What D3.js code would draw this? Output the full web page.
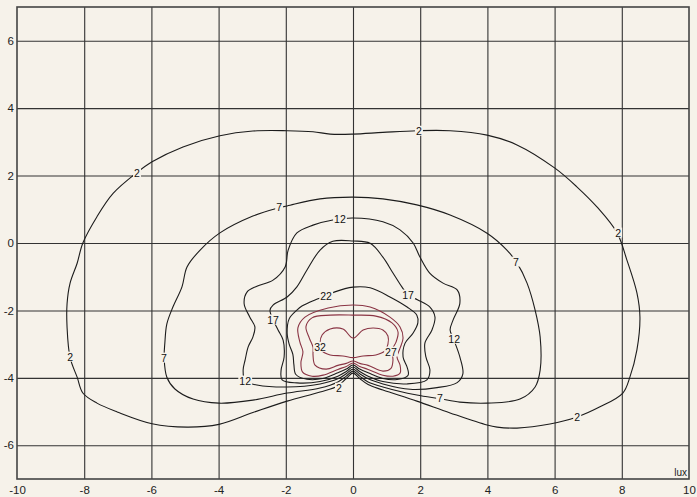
<!DOCTYPE html>
<html><head><meta charset="utf-8">
<script src="https://cdn.jsdelivr.net/npm/d3@7"></script>
<style>html,body{margin:0;padding:0;background:#f6f2ea;} svg{display:block}</style>
</head><body><svg id="c" width="697" height="497"></svg>
<script>
const xTicks = [-10,-8,-6,-4,-2,0,2,4,6,8,10];
const yTicks = [-6,-4,-2,0,2,4,6];
const xGrid = [-8,-6,-4,-2,0,2,4,6,8];
const yGrid = [-6,-4,-2,0,2,4,6];
const levels = [2,7,12,17,22,27,32,37];

const contour2 = [[0,3.23],[0.89,3.28],[1.9,3.33],[2.89,3.33],[3.99,3.20],[4.88,2.91],[6.01,2.22],[6.67,1.66],[7.26,1.07],[7.86,0.30],[8.15,-0.50],[8.45,-1.48],[8.54,-2.20],[8.45,-3.17],[8.24,-3.98],[8.03,-4.45],[7.35,-4.86],[6.67,-5.16],[5.86,-5.37],[4.88,-5.49],[4.29,-5.46],[3.99,-5.40],[2.89,-5.04],[1.9,-4.69],[0.89,-4.36],[0.45,-4.20],[0.2,-4.02],[0,-3.86],
[-0.2,-4.02],[-0.45,-4.24],[-0.98,-4.42],[-1.96,-4.69],[-2.98,-5.03],[-3.99,-5.38],[-4.94,-5.46],[-5.98,-5.36],[-7.02,-5.01],[-7.62,-4.75],[-8.04,-4.45],[-8.21,-3.98],[-8.42,-3.40],[-8.51,-2.50],[-8.51,-1.80],[-8.42,-1.19],[-8.21,-0.60],[-8.04,0],[-7.62,0.78],[-7.14,1.47],[-6.43,2.09],[-5.98,2.41],[-5.06,2.85],[-3.96,3.18],[-2.98,3.32],[-1.96,3.33],[-1.19,3.30],[-0.68,3.23]];

const contour7 = [[0,1.36],[0.89,1.31],[1.9,1.13],[2.89,0.83],[3.99,0.29],[4.58,-0.21],[4.88,-0.59],[5.18,-1.19],[5.42,-1.99],[5.57,-2.79],[5.57,-3.77],[5.42,-4.27],[4.97,-4.63],[3.99,-4.75],[3.18,-4.72],[2.59,-4.62],[1.9,-4.51],[0.89,-4.27],[0.45,-4.12],[0.2,-3.95],[0,-3.80],
[-0.2,-3.95],[-0.45,-4.12],[-0.98,-4.30],[-1.96,-4.45],[-2.98,-4.66],[-3.99,-4.75],[-4.76,-4.63],[-5.30,-4.33],[-5.54,-3.98],[-5.62,-3.42],[-5.60,-2.97],[-5.54,-2.40],[-5.36,-1.90],[-5.09,-1.30],[-4.94,-0.71],[-4.55,-0.21],[-3.96,0.30],[-2.98,0.80],[-2.23,1.04],[-1.96,1.10],[-0.98,1.31]];

const contour12 = [[0,0.74],[0.89,0.63],[1.40,0.39],[1.79,0],[1.99,-0.41],[2.29,-0.90],[2.68,-1.19],[3.10,-1.39],[3.18,-1.79],[2.98,-2.28],[2.89,-2.58],[3.0,-2.87],[3.18,-3.38],[3.27,-3.88],[3.10,-4.14],[2.50,-4.29],[1.70,-4.34],[0.89,-4.18],[0.45,-4.03],[0.2,-3.88],[0,-3.74],
[-0.2,-3.88],[-0.45,-4.03],[-0.98,-4.18],[-1.96,-4.27],[-2.86,-4.21],[-3.21,-4.10],[-3.27,-3.77],[-3.21,-3.47],[-3.12,-3.08],[-2.98,-2.79],[-2.92,-2.49],[-3.07,-2.20],[-3.24,-1.80],[-3.15,-1.45],[-2.86,-1.28],[-2.38,-1.10],[-2.02,-0.71],[-1.93,-0.21],[-1.67,0.30],[-1.19,0.53],[-0.60,0.68]];

const contour17 = [[0,0.06],[0.51,-0.01],[0.89,-0.42],[1.19,-0.89],[1.46,-1.31],[1.64,-1.54],[1.93,-1.69],[2.29,-1.90],[2.44,-2.20],[2.35,-2.58],[2.14,-2.97],[2.17,-3.38],[2.29,-3.77],[2.20,-4.06],[1.61,-4.18],[0.89,-4.11],[0.45,-3.95],[0.2,-3.81],[0,-3.68],
[-0.2,-3.81],[-0.45,-3.95],[-0.98,-4.11],[-1.67,-4.15],[-2.11,-4.06],[-2.14,-3.77],[-2.05,-3.38],[-2.08,-2.88],[-2.23,-2.58],[-2.38,-2.28],[-2.47,-1.99],[-2.38,-1.84],[-1.96,-1.60],[-1.67,-1.30],[-1.37,-0.80],[-0.98,-0.21],[-0.60,0.05]];

const contour22 = [[0,-1.31],[0.51,-1.33],[1.10,-1.60],[1.61,-1.90],[1.90,-2.14],[1.93,-2.37],[1.79,-2.67],[1.55,-2.97],[1.49,-3.38],[1.61,-3.68],[1.64,-3.92],[1.31,-4.05],[0.89,-4.02],[0.45,-3.85],[0.2,-3.74],[0,-3.62],
[-0.2,-3.74],[-0.45,-3.85],[-0.90,-4.02],[-1.37,-4.04],[-1.70,-3.90],[-1.76,-3.60],[-1.79,-3.30],[-1.90,-3.00],[-1.96,-2.67],[-1.90,-2.25],[-1.67,-1.99],[-1.52,-1.87],[-1.13,-1.69],[-0.83,-1.58],[-0.54,-1.45]];

const contour27 = [[0,-1.84],[0.51,-1.90],[1.10,-2.20],[1.40,-2.49],[1.49,-2.82],[1.40,-3.12],[1.31,-3.38],[1.40,-3.62],[1.40,-3.86],[1.19,-3.95],[0.89,-3.92],[0.45,-3.75],[0.2,-3.66],[0,-3.56],
[-0.2,-3.66],[-0.45,-3.75],[-0.89,-3.92],[-1.22,-3.95],[-1.50,-3.83],[-1.55,-3.55],[-1.49,-3.23],[-1.58,-2.94],[-1.64,-2.52],[-1.43,-2.20],[-0.74,-1.93]];

const contour32 = [[0,-2.14],[0.68,-2.17],[1.16,-2.37],[1.34,-2.64],[1.28,-2.94],[1.16,-3.18],[1.19,-3.47],[1.13,-3.72],[0.89,-3.80],[0.45,-3.63],[0.2,-3.57],[0,-3.50],
[-0.2,-3.57],[-0.45,-3.63],[-0.80,-3.74],[-1.13,-3.62],[-1.19,-3.32],[-1.19,-3.09],[-1.30,-2.82],[-1.40,-2.48],[-1.22,-2.22],[-0.68,-2.14]];

const contour37 = [[0,-2.82],[0.30,-2.58],[0.60,-2.52],[0.89,-2.58],[1.04,-2.76],[1.04,-3.00],[0.95,-3.20],[0.68,-3.32],[0.30,-3.35],[0,-3.40],[-0.30,-3.35],[-0.68,-3.32],[-0.92,-3.20],[-0.98,-2.97],[-0.92,-2.73],[-0.68,-2.55],[-0.30,-2.55]];

const labelLevels = [2,2,2,2,2,2,7,7,7,7,12,12,12,17,17,22,27,32];
const labelX = [1.96,-6.43,7.89,-8.42,6.67,-0.42,-2.20,4.85,-5.63,2.59,-0.39,3.01,-3.21,1.64,-2.38,-0.80,1.13,-0.98];
const labelY = [3.32,2.08,0.30,-3.38,-5.16,-4.30,1.07,-0.56,-3.41,-4.60,0.71,-2.85,-4.09,-1.54,-2.28,-1.57,-3.23,-3.09];

const contours = [contour2,contour7,contour12,contour17,contour22,contour27,contour32,contour37];

const BG = "#f6f2ea";
const svg = d3.select("#c");
svg.append("rect").attr("width",697).attr("height",497).attr("fill",BG);

const x = d3.scaleLinear().domain([-10,10]).range([17,689]);
const y = d3.scaleLinear().domain([-7,7]).range([479,7]);
const H = 479-7, W = 689-17;
const fmt = d => String(d);

// grid
svg.append("g").attr("transform","translate(0,479)")
  .call(d3.axisBottom(x).tickValues(xGrid).tickSize(-H).tickFormat(""))
  .call(g=>{g.select(".domain").remove(); g.selectAll("line").attr("stroke","#333").attr("stroke-width",1.1);});
svg.append("g").attr("transform","translate(17,0)")
  .call(d3.axisLeft(y).tickValues(yGrid).tickSize(-W).tickFormat(""))
  .call(g=>{g.select(".domain").remove(); g.selectAll("line").attr("stroke","#333").attr("stroke-width",1.1);});

// tick labels
const fam = "'Liberation Sans', Arial, sans-serif";
svg.append("g").attr("transform","translate(0,479)")
  .call(d3.axisBottom(x).tickValues(xTicks).tickSize(0).tickPadding(7).tickFormat(fmt))
  .call(g=>{g.select(".domain").remove(); g.selectAll("text").attr("font-family",fam).attr("font-size",11.5).attr("fill","#222");});
svg.append("g").attr("transform","translate(17,0)")
  .call(d3.axisLeft(y).tickValues(yTicks).tickSize(0).tickPadding(3).tickFormat(fmt))
  .call(g=>{g.select(".domain").remove(); g.selectAll("text").attr("font-family",fam).attr("font-size",11.5).attr("fill","#222");});

// contours
const line = d3.line().x(d=>x(d[0])).y(d=>y(d[1])).curve(d3.curveCatmullRomClosed.alpha(0.5));
const colorOf = l => l >= 27 ? "#8a3444" : "#1c1c1c";
svg.append("g").selectAll("path").data(contours).join("path")
  .attr("d", d=>line(d)).attr("fill","none")
  .attr("stroke",(d,i)=>colorOf(levels[i])).attr("stroke-width",1.1);

// contour labels
const lg = svg.append("g");
labelLevels.forEach((lv,i)=>{
  const g = lg.append("g").attr("transform",`translate(${x(labelX[i])},${y(labelY[i])})`);
  const r = g.append("rect").attr("fill",BG);
  const t = g.append("text").text(lv).attr("text-anchor","middle").attr("dy","0.35em")
    .attr("font-family",fam).attr("font-size",10.5).attr("fill","#111");
  const b = t.node().getBBox();
  r.attr("x",b.x-1).attr("y",b.y+1).attr("width",b.width+2).attr("height",b.height-2);
});

// frame
svg.append("rect").attr("x",17).attr("y",7).attr("width",W).attr("height",H)
  .attr("fill","none").attr("stroke","#444").attr("stroke-width",1.6);

svg.append("text").attr("x",687).attr("y",476).attr("text-anchor","end")
  .attr("font-family",fam).attr("font-size",10).attr("fill","#222").text("lux");
</script></body></html>
